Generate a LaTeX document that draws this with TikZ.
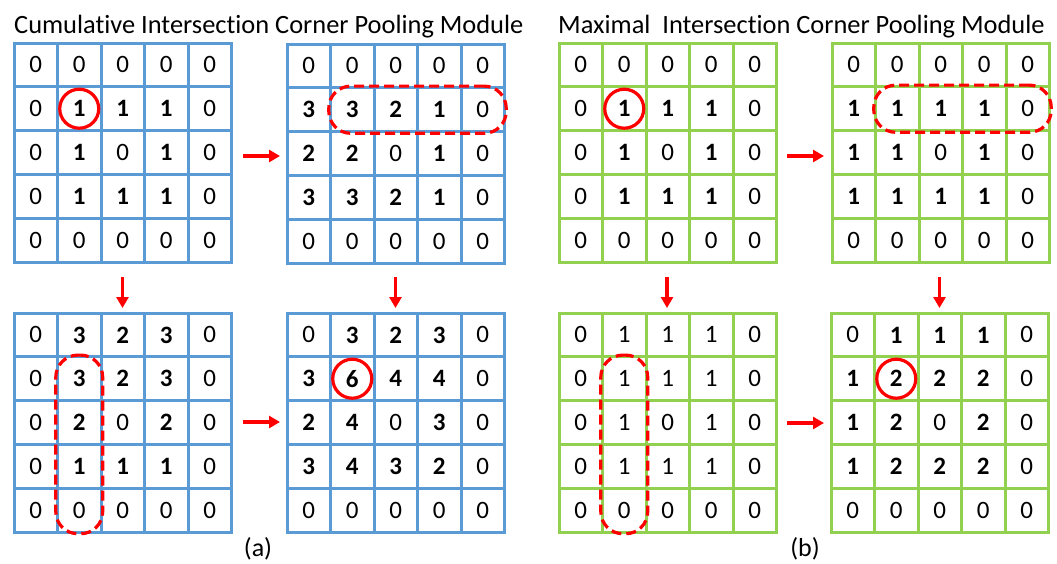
\documentclass[tikz,border=0pt]{standalone}
\usepackage{fontspec}
\setmainfont{Carlito}[Ligatures={NoCommon}]
\usetikzlibrary{arrows.meta,fit}

\definecolor{gridblue}{HTML}{5B9BD5}
\definecolor{gridgreen}{HTML}{92D050}
\definecolor{mark}{HTML}{FF0000}

\newcommand{\B}[1]{\textbf{#1}}
% 5x5 grid of values: #1 name, #2 left x, #3 top y, #4 line colour, #5 rows
\newcommand{\valuegrid}[5]{%
  \foreach \rowvals [count=\r from 0] in {#5} {
    \foreach \v [count=\c from 0] in \rowvals {
      \node[cell] (#1-\r-\c) at (#2+\c*43.5+21.75, #3+\r*43.8+21.9) {\v};
    }
  }
  \foreach \i in {1,...,4} {
    \draw[gl=#4] (#2+\i*43.5, #3) -- (#2+\i*43.5, #3+219);
    \draw[gl=#4] (#2, #3+\i*43.8) -- (#2+217.5, #3+\i*43.8);
  }
  \draw[gl=#4] (#2,#3) rectangle (#2+217.5,#3+219);
}

\tikzset{
  cell/.style={minimum width=43.5pt, minimum height=43.8pt, inner sep=0pt,
    font=\fontsize{25}{29}\selectfont},
  gl/.style={draw=#1, line width=3pt, line cap=rect},
  ring/.style={draw=mark, line width=3.2pt, circle, minimum size=39pt, inner sep=0pt},
  dashbox/.style={draw=mark, line width=3.2pt, dash pattern=on 10pt off 5pt,
    rounded corners=22pt, inner sep=1.5pt},
  flow/.style={draw=mark, line width=3.5pt, -{Triangle[length=11pt,width=12pt]}},
  title/.style={anchor=base west, inner sep=0pt, font=\fontsize{26.4}{30}\selectfont},
  caption/.style={inner sep=0pt, font=\fontsize{26}{30}\selectfont},
}

\begin{document}
\begin{tikzpicture}[x=1pt,y=-1pt]
\useasboundingbox (0,0) rectangle (1057,563);

% titles
\node[title] (ta) at (14,33) {Cumulative Intersection Corner Pooling Module};
\node[title] (tb) at (558,33) {Maximal\ \ Intersection Corner Pooling Module};

% (a) cumulative pooling
\valuegrid{A1}{14}{43}{gridblue}{
  {0,0,0,0,0},{0,\B1,\B1,\B1,0},{0,\B1,0,\B1,0},{0,\B1,\B1,\B1,0},{0,0,0,0,0}}
\valuegrid{A2}{287}{44}{gridblue}{
  {0,0,0,0,0},{\B3,\B3,\B2,\B1,0},{\B2,\B2,0,\B1,0},{\B3,\B3,\B2,\B1,0},{0,0,0,0,0}}
\valuegrid{A3}{14}{313}{gridblue}{
  {0,\B3,\B2,\B3,0},{0,\B3,\B2,\B3,0},{0,\B2,0,\B2,0},{0,\B1,\B1,\B1,0},{0,0,0,0,0}}
\valuegrid{A4}{287}{313}{gridblue}{
  {0,\B3,\B2,\B3,0},{\B3,\B6,\B4,\B4,0},{\B2,\B4,0,\B3,0},{\B3,\B4,\B3,\B2,0},{0,0,0,0,0}}

% (b) maximal pooling
\valuegrid{B1}{559}{43}{gridgreen}{
  {0,0,0,0,0},{0,\B1,\B1,\B1,0},{0,\B1,0,\B1,0},{0,\B1,\B1,\B1,0},{0,0,0,0,0}}
\valuegrid{B2}{832}{43}{gridgreen}{
  {0,0,0,0,0},{\B1,\B1,\B1,\B1,0},{\B1,\B1,0,\B1,0},{\B1,\B1,\B1,\B1,0},{0,0,0,0,0}}
\valuegrid{B3}{559}{313}{gridgreen}{
  {0,1,1,1,0},{0,1,1,1,0},{0,1,0,1,0},{0,1,1,1,0},{0,0,0,0,0}}
\valuegrid{B4}{831}{313}{gridgreen}{
  {0,\B1,\B1,\B1,0},{\B1,\B2,\B2,\B2,0},{\B1,\B2,0,\B2,0},{\B1,\B2,\B2,\B2,0},{0,0,0,0,0}}

% highlighted corners
\node[ring] (ra1) at (A1-1-1.center) {};
\node[ring] (ra4) at (A4-1-1.center) {};
\node[ring] (rb1) at (B1-1-1.center) {};
\node[ring] (rb4) at (B4-1-1.center) {};

% pooled row / column
\node[dashbox, fit=(A2-1-1)(A2-1-4)] (rowa) {};
\node[dashbox, fit=(A3-1-1)(A3-4-1)] (cola) {};
\node[dashbox, fit=(B2-1-1)(B2-1-4)] (rowb) {};
\node[dashbox, fit=(B3-1-1)(B3-4-1)] (colb) {};

% flow arrows
\coordinate (ah1) at (243,156);  \coordinate (ah2) at (280,156);
\coordinate (av1) at (122.5,277); \coordinate (av2) at (122.5,308);
\coordinate (aw1) at (395.5,277); \coordinate (aw2) at (395.5,308);
\coordinate (ai1) at (243,422);  \coordinate (ai2) at (280,422);
\coordinate (bh1) at (787,156);  \coordinate (bh2) at (824,156);
\coordinate (bv1) at (667,277);  \coordinate (bv2) at (667,308);
\coordinate (bw1) at (939.5,277); \coordinate (bw2) at (939.5,308);
\coordinate (bi1) at (787,423);  \coordinate (bi2) at (824,423);
\foreach \s/\e in {ah1/ah2,av1/av2,aw1/aw2,ai1/ai2,bh1/bh2,bv1/bv2,bw1/bw2,bi1/bi2}
  \draw[flow] (\s) -- (\e);

% captions
\node[caption] (capa) at (258,549) {(a)};
\node[caption] (capb) at (805,549) {(b)};
\end{tikzpicture}
\end{document}
